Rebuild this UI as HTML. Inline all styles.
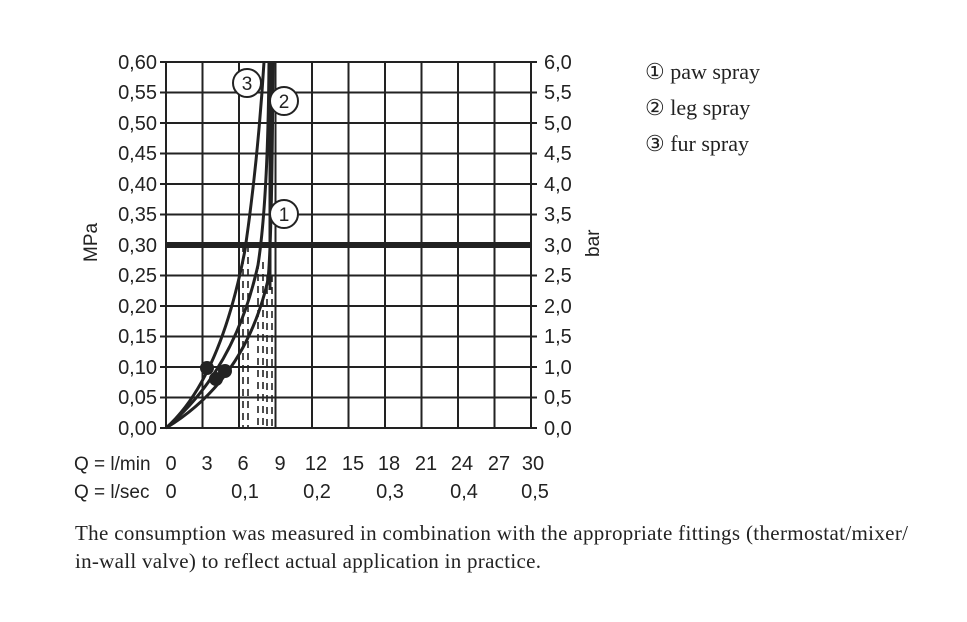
<!DOCTYPE html>
<html><head><style>
body{margin:0;background:#fff;width:967px;height:617px;overflow:hidden}
svg text{font-family:"Liberation Sans",sans-serif;fill:#222}
.s{font-family:"Liberation Serif",serif}
</style></head><body>
<svg width="967" height="617" viewBox="0 0 967 617">
<g stroke="#222" stroke-width="2" fill="none">
<path d="M166,62V428 M202.5,62V428 M239,62V428 M275.5,62V428 M312,62V428 M348.5,62V428 M385,62V428 M421.5,62V428 M458,62V428 M494.5,62V428 M531,62V428"/>
<path d="M160,62H537 M160,92.5H537 M160,123H537 M160,153.5H537 M160,184H537 M160,214.5H537 M160,275.5H537 M160,306H537 M160,336.5H537 M160,367H537 M160,397.5H537 M160,428H537"/>
</g>
<path d="M166,245H531" stroke="#222" stroke-width="6"/>
<g stroke="#222" stroke-width="1.6" stroke-dasharray="7,5" fill="none">
<path d="M243,245V428 M248,245V428 M258,262V428 M263,262V428 M267,275V428 M272,275V428"/>
</g>
<g stroke="#222" stroke-width="3" fill="none">
<path d="M166,428 Q220,380 245,250 Q258,160 264,62"/>
<path d="M166,428 Q235,370 258,265 Q268,200 269,62"/>
<path d="M166,428 Q245,380 268,280 Q272,240 273,62"/>
<path d="M270,62V290"/>
</g>
<g fill="#222"><circle cx="207" cy="368" r="7"/><circle cx="216" cy="379" r="7"/><circle cx="225" cy="371" r="7"/></g>
<g fill="#fff" stroke="#222" stroke-width="2">
<circle cx="247" cy="83" r="14"/><circle cx="284" cy="101" r="14"/><circle cx="284" cy="214" r="14"/>
</g>
<g font-size="19" text-anchor="middle"><text x="247" y="90">3</text><text x="284" y="108">2</text><text x="284" y="221">1</text></g>
<g font-size="20" text-anchor="end">
<text x="157" y="69">0,60</text><text x="157" y="99">0,55</text><text x="157" y="130">0,50</text><text x="157" y="160">0,45</text><text x="157" y="191">0,40</text><text x="157" y="221">0,35</text><text x="157" y="252">0,30</text><text x="157" y="282">0,25</text><text x="157" y="313">0,20</text><text x="157" y="343">0,15</text><text x="157" y="374">0,10</text><text x="157" y="404">0,05</text><text x="157" y="435">0,00</text>
</g>
<g font-size="20">
<text x="544" y="69">6,0</text><text x="544" y="99">5,5</text><text x="544" y="130">5,0</text><text x="544" y="160">4,5</text><text x="544" y="191">4,0</text><text x="544" y="221">3,5</text><text x="544" y="252">3,0</text><text x="544" y="282">2,5</text><text x="544" y="313">2,0</text><text x="544" y="343">1,5</text><text x="544" y="374">1,0</text><text x="544" y="404">0,5</text><text x="544" y="435">0,0</text>
</g>
<text font-size="19" transform="translate(97,262) rotate(-90)">MPa</text>
<text font-size="19" transform="translate(599,257) rotate(-90)">bar</text>
<g font-size="19">
<text x="74" y="470">Q = l/min</text><text x="74" y="498">Q = l/sec</text>
</g>
<g font-size="20" text-anchor="middle">
<text x="171" y="470">0</text><text x="207" y="470">3</text><text x="243" y="470">6</text><text x="280" y="470">9</text><text x="316" y="470">12</text><text x="353" y="470">15</text><text x="389" y="470">18</text><text x="426" y="470">21</text><text x="462" y="470">24</text><text x="499" y="470">27</text><text x="533" y="470">30</text>
<text x="171" y="498">0</text><text x="245" y="498">0,1</text><text x="317" y="498">0,2</text><text x="390" y="498">0,3</text><text x="464" y="498">0,4</text><text x="535" y="498">0,5</text>
</g>
<g font-size="22">
<text class="s" x="645" y="79">① paw spray</text>
<text class="s" x="645" y="115">② leg spray</text>
<text class="s" x="645" y="151">③ fur spray</text>
</g>
<text class="s" x="75" y="540" font-size="21" textLength="833">The consumption was measured in combination with the appropriate fittings (thermostat/mixer/</text>
<text class="s" x="75" y="568" font-size="21" textLength="466">in-wall valve) to reflect actual application in practice.</text>
</svg>
</body></html>
